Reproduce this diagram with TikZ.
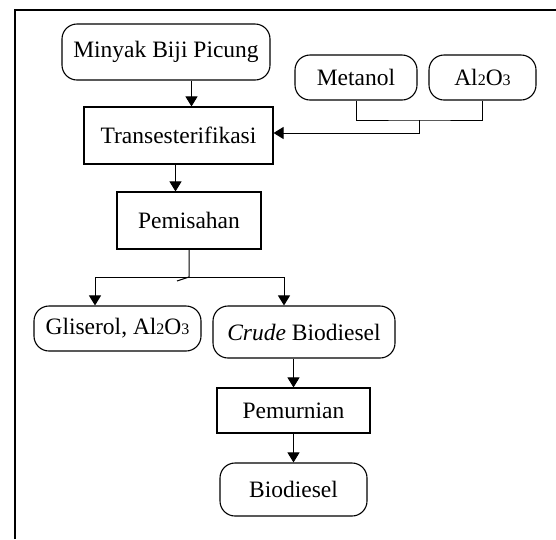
\documentclass[tikz,border=0pt]{standalone}
\usepackage{fontspec}
\setmainfont{Liberation Serif}
\usetikzlibrary{arrows.meta}
\newcommand{\subd}[1]{{\fontsize{16}{16}\selectfont #1}}
\begin{document}
\begin{tikzpicture}[x=1pt,y=-1pt,
  base/.style={draw,line width=1.1pt,font=\fontsize{23.5}{28}\selectfont,inner sep=0pt,align=center},
  rbox/.style={base,rounded corners=15pt},
  sbox/.style={base},
  conn/.style={line width=1pt},
  arr/.style={conn,-{Triangle[length=10pt,width=12pt]}}]
\useasboundingbox (0,0) rectangle (556,539);
\draw[line width=2pt] (15,539) -- (15,10) -- (556,10);

\node[rbox,minimum width=208pt,minimum height=56pt] (minyak) at (166,52) {Minyak Biji Picung};
\node[sbox,minimum width=189pt,minimum height=57pt] (trans) at (178.5,135.5) {Transesterifikasi};
\node[rbox,minimum width=122pt,minimum height=45pt] (metanol) at (356,77.5) {Metanol};
\node[rbox,minimum width=107pt,minimum height=45pt] (al) at (482.5,77.5) {Al\subd{2}O\subd{3}};
\node[sbox,minimum width=144pt,minimum height=57pt] (pem) at (189,220.5) {Pemisahan};
\node[rbox,minimum width=167pt,minimum height=45pt] (glis) at (117.5,328.5) {Gliserol, Al\subd{2}O\subd{3}};
\node[rbox,minimum width=182pt,minimum height=52pt] (crude) at (304,332) {\textit{Crude} Biodiesel};
\node[sbox,minimum width=153pt,minimum height=45pt] (pemur) at (293.5,410.5) {Pemurnian};
\node[rbox,minimum width=147pt,minimum height=53pt] (bio) at (293.5,489.5) {Biodiesel};

\coordinate (c1) at (191.5,0);
\coordinate (c2) at (175.5,0);
\draw[arr] (minyak.south -| c1) -- (trans.north -| c1);
\draw[arr] (trans.south -| c2) -- (pem.north -| c2);

\coordinate (j1) at (419.5,120);
\coordinate (j2) at (419.5,133);
\draw[conn] (metanol.south) |- (j1) -| (al.south);
\draw[arr] (j1) -- (j2) -- (j2 -| trans.east);

\coordinate (s1) at (189,277);
\coordinate (sl) at (95,277);
\coordinate (sr) at (284,277);
\coordinate (sk) at (177,281);
\draw[conn] (pem.south -| s1) -- (s1) -- (sk);
\draw[conn] (sl) -- (sr);
\draw[arr] (sl) -- (glis.north -| sl);
\draw[arr] (sr) -- (crude.north -| sr);

\draw[arr] (crude.south -| pemur.north) -- (pemur.north);
\draw[arr] (pemur.south) -- (bio.north);
\end{tikzpicture}
\end{document}
